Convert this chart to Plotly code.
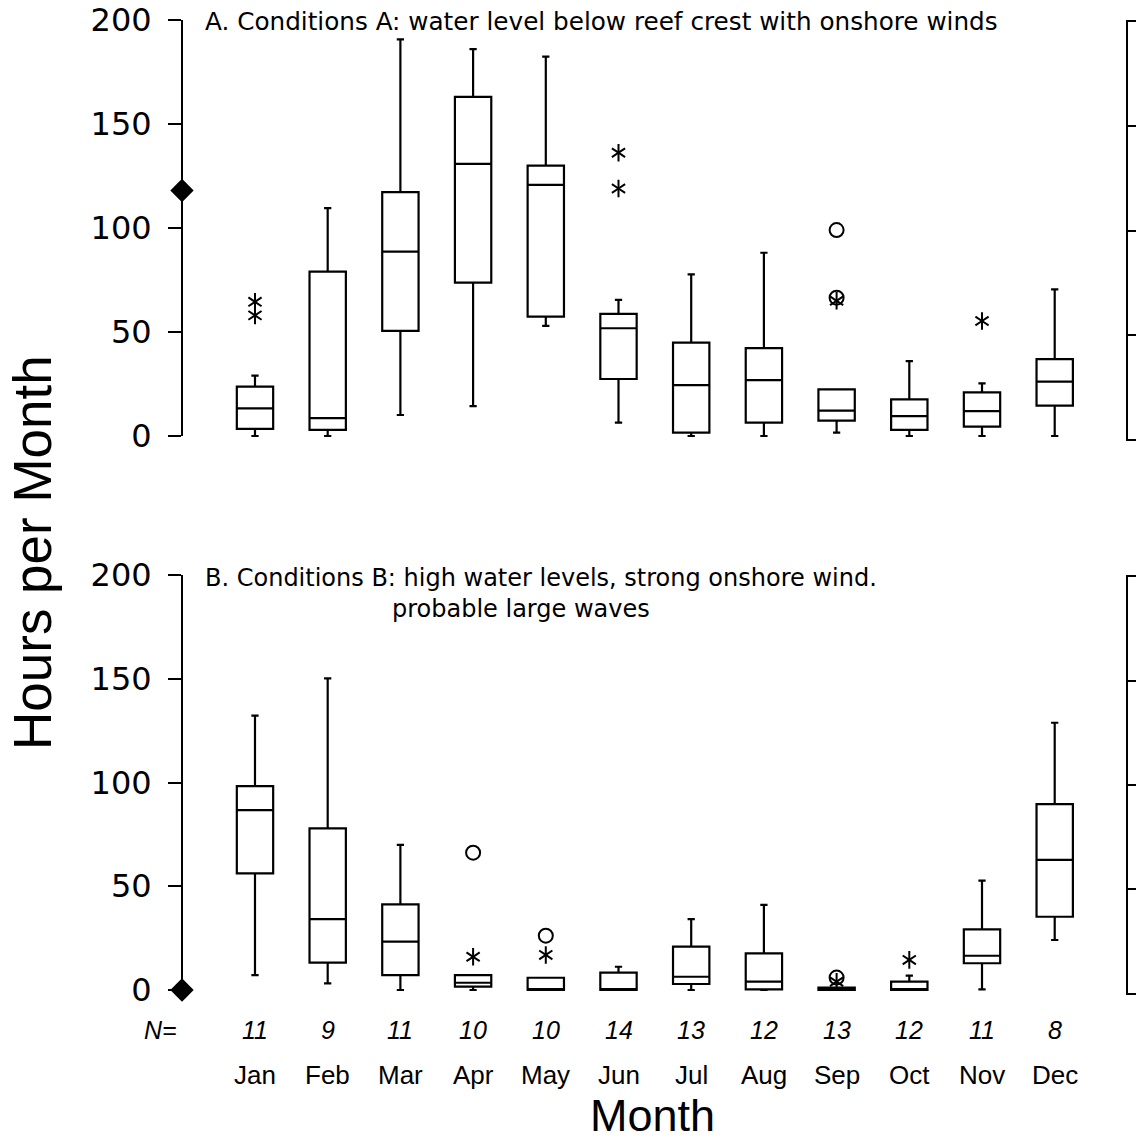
import plotly.graph_objects as go

W, H = 1136, 1142

months = ["Jan", "Feb", "Mar", "Apr", "May", "Jun",
          "Jul", "Aug", "Sep", "Oct", "Nov", "Dec"]
n_years = [11, 9, 11, 10, 10, 14, 13, 12, 13, 12, 11, 8]
pos = list(range(len(months)))

# Conditions A: box statistics (hours per month)
a_low = [0, 0, 10.1, 14.4, 52.9, 6.4, 0, 0, 1.6, 0, 0, 0]
a_q1 = [3.4, 2.9, 50.5, 73.7, 57.4, 27.4, 1.6, 6.4, 7.4, 2.9, 4.5, 14.6]
a_med = [13.3, 8.6, 88.6, 130.8, 120.7, 51.8, 24.5, 26.9, 12.2, 9.6, 12.0, 26.1]
a_q3 = [23.7, 79.0, 117.2, 163.0, 130.0, 58.7, 44.9, 42.2, 22.4, 17.6, 21.0, 37.0]
a_high = [29.0, 109.6, 190.7, 186.0, 182.4, 65.4, 77.7, 88.1, 22.4, 36.0, 25.3, 70.5]
a_star_m = [0, 0, 5, 5, 8, 10]
a_star_v = [64.5, 58.0, 136.2, 119.0, 65.0, 55.3]
a_circ_m = [8, 8]
a_circ_v = [99.0, 66.5]
a_marker = 118

# Conditions B: box statistics (hours per month)
b_low = [7.2, 3.2, 0, 0, 0, 0, 0, 0, 0, 0, 0.3, 24.1]
b_q1 = [56.2, 13.2, 7.2, 1.6, 0, 0, 2.9, 0.3, 0, 0, 12.9, 35.3]
b_med = [86.7, 34.2, 23.3, 3.5, 0, 0, 6.4, 4.0, 0, 0.3, 16.5, 62.7]
b_q3 = [98.3, 77.9, 41.3, 7.2, 5.9, 8.4, 20.9, 17.7, 1.2, 4.0, 29.2, 89.6]
b_high = [132.2, 150.2, 69.9, 7.2, 5.9, 11.2, 34.2, 41.0, 1.2, 6.9, 52.7, 128.8]
b_star_m = [3, 4, 8, 9]
b_star_v = [16.0, 16.9, 4.0, 14.5]
b_circ_m = [3, 4, 8]
b_circ_v = [66.2, 26.2, 6.0]
b_marker = 0

y_ticks = [0, 50, 100, 150, 200]


# ---- geometry helpers: pixel rows -> paper fractions ----
def fy(px):
    return 1 - px / H


def ydom(px_zero, px_per_unit, lo, hi):
    return [fy(px_zero - px_per_unit * lo), fy(px_zero - px_per_unit * hi)]


X_RANGE = [-1.004, 11.623]
X_DOM = [182 / W, 1100 / W]
Y_RANGE = [-3, 203]
DOM_A = ydom(436, 2.08, *Y_RANGE)
DOM_B = ydom(990, 2.075, *Y_RANGE)
SIDE_DOM_A = ydom(439, 2.085, 0, 200)
SIDE_DOM_B = ydom(993, 2.08, 0, 200)
SIDE_X = [1128 / W, 1.0]

BLACK = "black"
TICK_FONT = dict(family="DejaVu Sans", size=32, color=BLACK)
TITLE_FONT = dict(family="DejaVu Sans", size=24, color=BLACK)
LABEL_FAMILY = "Liberation Sans"

fig = go.Figure()


def add_panel(xa, ya, low, q1, med, q3, high, sm, sv, cm, cv, marker_val):
    fig.add_trace(go.Box(
        x=pos, q1=q1, median=med, q3=q3, lowerfence=low, upperfence=high,
        xaxis=xa, yaxis=ya, width=0.5, whiskerwidth=0.2,
        boxpoints=False, fillcolor="white",
        line=dict(color=BLACK, width=2.2), showlegend=False, hoverinfo="skip"))
    fig.add_trace(go.Scatter(
        x=cm, y=cv, xaxis=xa, yaxis=ya, mode="markers", showlegend=False,
        marker=dict(symbol="circle-open", size=14, color=BLACK,
                    line=dict(width=2, color=BLACK)), cliponaxis=False))
    # six-armed asterisks built from two overlaid "y" glyphs
    for sym in ("y-up-open", "y-down-open"):
        fig.add_trace(go.Scatter(
            x=sm, y=sv, xaxis=xa, yaxis=ya, mode="markers", showlegend=False,
            marker=dict(symbol=sym, size=11, color=BLACK,
                        line=dict(width=2, color=BLACK)), cliponaxis=False))
    fig.add_trace(go.Scatter(
        x=[X_RANGE[0]], y=[marker_val], xaxis=xa, yaxis=ya, mode="markers",
        showlegend=False, cliponaxis=False,
        marker=dict(symbol="diamond", size=18, color=BLACK)))


add_panel("x", "y", a_low, a_q1, a_med, a_q3, a_high,
          a_star_m, a_star_v, a_circ_m, a_circ_v, a_marker)
add_panel("x2", "y2", b_low, b_q1, b_med, b_q3, b_high,
          b_star_m, b_star_v, b_circ_m, b_circ_v, b_marker)

# neighbouring panels at the right edge (frames only)
fig.add_trace(go.Scatter(x=[], y=[], xaxis="x3", yaxis="y3", showlegend=False))
fig.add_trace(go.Scatter(x=[], y=[], xaxis="x4", yaxis="y4", showlegend=False))

xcommon = dict(range=X_RANGE, domain=X_DOM, showline=False, showgrid=False,
               zeroline=False, showticklabels=False, ticks="", automargin=False)
ycommon = dict(range=Y_RANGE, showline=False, showgrid=False, zeroline=False,
               tickvals=y_ticks, ticks="outside", ticklen=13, tickwidth=2,
               tickcolor=BLACK, tickfont=TICK_FONT, ticklabelstandoff=10,
               automargin=False)
side_x = dict(domain=SIDE_X, range=[0, 1], showline=True, mirror=True,
              linewidth=2, linecolor=BLACK, showgrid=False, zeroline=False,
              showticklabels=False, ticks="", automargin=False)
side_y = dict(range=[0, 200], showline=True, linewidth=2, linecolor=BLACK,
              showgrid=False, zeroline=False, showticklabels=False,
              tickvals=[50, 100, 150], ticks="inside", ticklen=8, tickwidth=2,
              tickcolor=BLACK, automargin=False)

fig.update_layout(
    width=W, height=H, margin=dict(l=0, r=0, t=0, b=0, pad=0),
    paper_bgcolor="white", plot_bgcolor="white", showlegend=False,
    xaxis=dict(xcommon, anchor="y"),
    yaxis=dict(ycommon, domain=DOM_A, anchor="x"),
    xaxis2=dict(xcommon, anchor="y2"),
    yaxis2=dict(ycommon, domain=DOM_B, anchor="x2"),
    xaxis3=dict(side_x, anchor="y3"),
    yaxis3=dict(side_y, domain=SIDE_DOM_A, anchor="x3"),
    xaxis4=dict(side_x, anchor="y4"),
    yaxis4=dict(side_y, domain=SIDE_DOM_B, anchor="x4"),
)

# vertical axis lines spanning 0..200
for ya, xa in (("y", "x"), ("y2", "x2")):
    fig.add_shape(type="line", xref=f"{xa} domain", yref=ya, x0=0, x1=0,
                  y0=0, y1=200, line=dict(color=BLACK, width=2))

ann = []


def text(t, x, ypx, font, xref="paper", xanchor="left", angle=0):
    ann.append(dict(text=t, xref=xref, yref="paper", x=x, y=fy(ypx),
                    xanchor=xanchor, yanchor="middle", showarrow=False,
                    textangle=angle, font=font))


text("A. Conditions A: water level below reef crest with onshore winds",
     203 / W, 22, dict(TITLE_FONT, size=24.7))
text("B. Conditions B: high water levels, strong onshore wind.",
     203 / W, 578, TITLE_FONT)
text("probable large waves", 390 / W, 609, TITLE_FONT)
text("Hours per Month", 32 / W, 553,
     dict(family=LABEL_FAMILY, size=53, color=BLACK), xanchor="center", angle=-90)
text("Month", 652 / W, 1115,
     dict(family=LABEL_FAMILY, size=45, color=BLACK), xanchor="center")
n_font = dict(family=LABEL_FAMILY, size=25, color=BLACK)
text("<i>N=</i>", 160 / W, 1030, n_font, xanchor="center")
for m, n, lab in zip(pos, n_years, months):
    text(f"<i>{n}</i>", m, 1030, n_font, xref="x2", xanchor="center")
    text(lab, m, 1075, dict(family=LABEL_FAMILY, size=26, color=BLACK),
         xref="x2", xanchor="center")
fig.update_layout(annotations=ann)

fig.write_html("out.html")
